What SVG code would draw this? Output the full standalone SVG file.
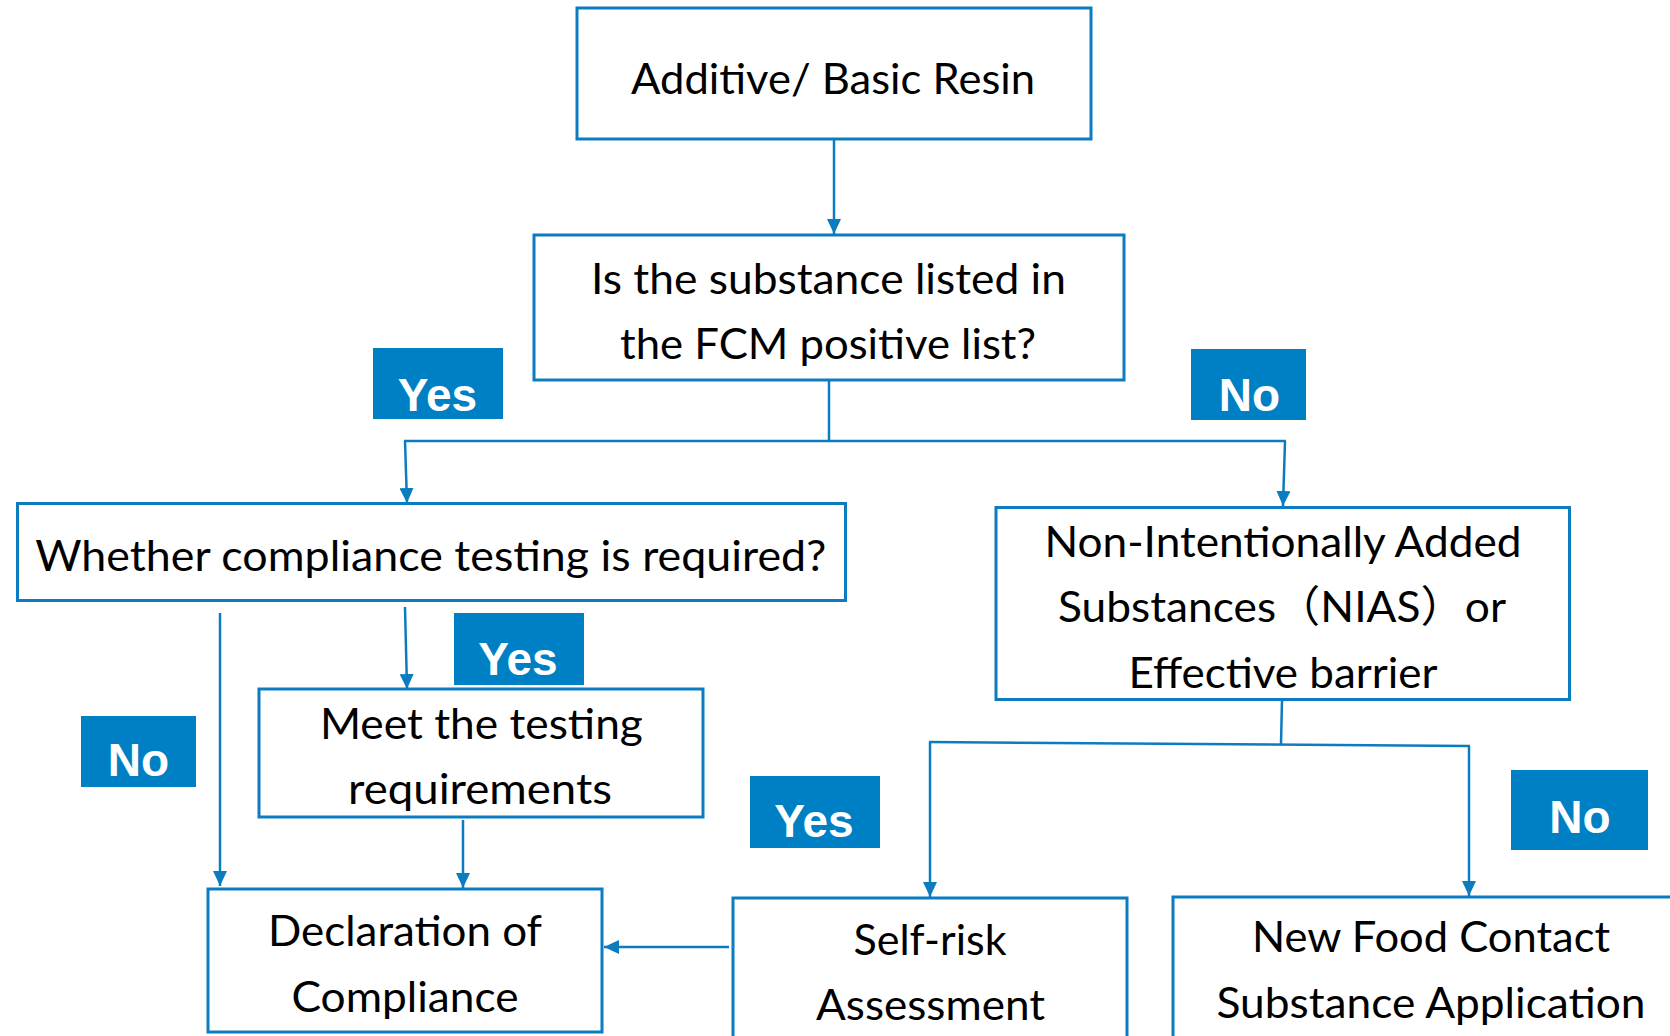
<svg xmlns="http://www.w3.org/2000/svg" width="1670" height="1036" viewBox="0 0 1670 1036">
<style>
.box{fill:#fff;stroke:#0C7CC0;stroke-width:3}
.t{font-family:Lato,"Noto Sans CJK SC",sans-serif;font-size:43px;fill:#000;text-anchor:middle}
.lab{fill:#0080C4}
.lt{font-family:"Liberation Sans",Arial,sans-serif;font-weight:bold;font-size:46px;fill:#fff;text-anchor:middle}
.c{fill:none;stroke:#0C7CC0;stroke-width:2.5}
.a{marker-end:url(#ah)}
</style>
<defs>
<marker id="ah" viewBox="0 0 10 10" refX="10" refY="5" markerUnits="userSpaceOnUse" markerWidth="15" markerHeight="14" orient="auto" preserveAspectRatio="none">
<path d="M0,0 L10,5 L0,10 z" fill="#0C7CC0"/>
</marker>
</defs>
<rect width="1670" height="1036" fill="#fff"/>
<g id="connectors">
<line class="c a" x1="834" y1="139" x2="834" y2="234"/>
<line class="c" x1="829" y1="380" x2="829" y2="441"/>
<line class="c" x1="404" y1="441" x2="1286" y2="441"/>
<line class="c a" x1="405" y1="441" x2="407" y2="503"/>
<line class="c a" x1="1285" y1="441" x2="1283" y2="506"/>
<line class="c a" x1="220" y1="613" x2="220" y2="886"/>
<line class="c a" x1="405" y1="607" x2="407" y2="689"/>
<line class="c a" x1="463" y1="820" x2="463" y2="888"/>
<line class="c a" x1="729" y1="947" x2="604" y2="947"/>
<line class="c" x1="1282" y1="700" x2="1281" y2="744"/>
<line class="c" x1="929" y1="742" x2="1470" y2="746"/>
<line class="c a" x1="930" y1="742" x2="930" y2="897"/>
<line class="c a" x1="1469" y1="746" x2="1469" y2="896"/>
</g>
<g id="n-additive">
<rect class="box" x="577" y="8" width="514" height="131"/>
<text class="t" x="833" y="94" textLength="404" lengthAdjust="spacingAndGlyphs">Additive/ Basic Resin</text>
</g>
<g id="n-listed">
<rect class="box" x="534" y="235" width="590" height="145"/>
<text class="t" x="828.5" y="294" textLength="475" lengthAdjust="spacingAndGlyphs">Is the substance listed in</text>
<text class="t" x="828" y="359" textLength="416" lengthAdjust="spacingAndGlyphs">the FCM positive list?</text>
</g>
<g id="n-whether">
<rect class="box" x="17.5" y="503.5" width="828" height="97"/>
<text class="t" x="430.7" y="571" textLength="791" lengthAdjust="spacingAndGlyphs">Whether compliance testing is required?</text>
</g>
<g id="n-nias">
<rect class="box" x="996" y="507.5" width="573.5" height="192"/>
<text class="t" x="1283" y="557" textLength="477" lengthAdjust="spacingAndGlyphs">Non-Intentionally Added</text>
<text class="t" x="1282" y="622" textLength="448" lengthAdjust="spacingAndGlyphs">Substances（NIAS）or</text>
<text class="t" x="1283" y="688" textLength="309" lengthAdjust="spacingAndGlyphs">Effective barrier</text>
</g>
<g id="n-meet">
<rect class="box" x="259" y="689" width="444" height="128"/>
<text class="t" x="481.4" y="739" textLength="323" lengthAdjust="spacingAndGlyphs">Meet the testing</text>
<text class="t" x="480" y="804" textLength="264" lengthAdjust="spacingAndGlyphs">requirements</text>
</g>
<g id="n-declaration">
<rect class="box" x="208" y="889" width="394" height="143"/>
<text class="t" x="405" y="946" textLength="274" lengthAdjust="spacingAndGlyphs">Declaration of</text>
<text class="t" x="405" y="1012" textLength="227" lengthAdjust="spacingAndGlyphs">Compliance</text>
</g>
<g id="n-selfrisk">
<rect class="box" x="733" y="898" width="394" height="150"/>
<text class="t" x="930" y="955" textLength="153" lengthAdjust="spacingAndGlyphs">Self-risk</text>
<text class="t" x="930.5" y="1020" textLength="229" lengthAdjust="spacingAndGlyphs">Assessment</text>
</g>
<g id="n-newfood">
<rect class="box" x="1173" y="897" width="520" height="150"/>
<text class="t" x="1431" y="952" textLength="358" lengthAdjust="spacingAndGlyphs">New Food Contact</text>
<text class="t" x="1431" y="1018" textLength="429" lengthAdjust="spacingAndGlyphs">Substance Application</text>
</g>
<g id="l-yes1">
<rect class="lab" x="373" y="348" width="130" height="71"/>
<text class="lt" x="437.5" y="411">Yes</text>
</g>
<g id="l-no1">
<rect class="lab" x="1191" y="349" width="115" height="71"/>
<text class="lt" x="1249.5" y="411">No</text>
</g>
<g id="l-yes2">
<rect class="lab" x="454" y="613" width="130" height="72"/>
<text class="lt" x="518" y="675">Yes</text>
</g>
<g id="l-no2">
<rect class="lab" x="81" y="716" width="115" height="71"/>
<text class="lt" x="138.5" y="776">No</text>
</g>
<g id="l-yes3">
<rect class="lab" x="750" y="776" width="130" height="72"/>
<text class="lt" x="814" y="837">Yes</text>
</g>
<g id="l-no3">
<rect class="lab" x="1511" y="770" width="137" height="80"/>
<text class="lt" x="1580" y="833">No</text>
</g>
</svg>
